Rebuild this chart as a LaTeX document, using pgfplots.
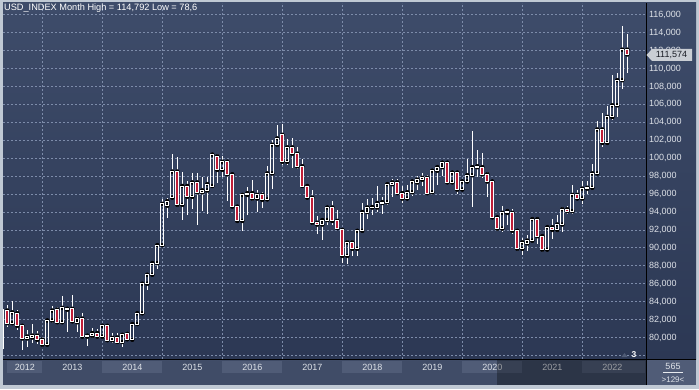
\documentclass[border=0pt]{standalone}
\usepackage{pgfplots}
\pgfplotsset{compat=1.18}
\usepackage{pgfplotstable}
\usepackage{fontspec}
\setmainfont{Liberation Sans}

\definecolor{framec}{RGB}{192,201,212}
\definecolor{bgtop}{RGB}{62,76,106}
\definecolor{bgbot}{RGB}{44,56,84}
\definecolor{band}{RGB}{64,76,103}
\definecolor{boxc}{RGB}{80,92,119}
\definecolor{gridc}{RGB}{125,140,170}
\definecolor{cred}{RGB}{192,30,56}
\definecolor{lab}{RGB}{222,226,232}
\definecolor{tagc}{RGB}{202,206,212}
\definecolor{tagtext}{RGB}{25,28,36}
\definecolor{tric}{RGB}{80,92,118}

\pgfplotstableread{
t o h l c
-8 78.8 83.3 78.7 83.1
-7 83.0 83.6 81.2 81.6
-6 81.6 84.05 81.4 82.8
-5 82.7 83.1 80.8 81.3
-4 81.3 81.5 78.6 79.9
-3 79.9 80.8 78.9 80.1
-2 80.0 81.5 79.4 80.2
-1 80.2 80.7 79.3 79.75
0 79.75 80.1 79.1 79.2
1 79.2 82.1 79.0 81.9
2 81.9 83.5 81.6 83.0
3 83.1 83.4 81.5 81.7
4 81.7 84.6 81.6 83.3
5 83.2 83.4 80.6 83.1
6 83.2 84.75 81.6 81.8
7 81.7 82.4 80.6 82.1
8 82.1 82.7 79.9 80.1
9 80.1 80.4 79.1 80.2
10 80.2 81.1 79.9 80.5
11 80.5 80.9 79.9 80.1
12 80.1 81.4 79.9 81.3
13 81.3 81.4 79.7 79.7
14 79.7 80.5 79.4 79.95
15 80.0 80.5 79.3 79.5
16 79.5 80.5 78.9 80.3
17 80.4 80.6 79.6 79.8
18 79.75 81.6 79.7 81.5
19 81.5 82.8 81.4 82.7
20 82.7 86.1 82.6 86.0
21 86.0 87.2 85.3 87.0
22 87.0 88.4 86.9 88.3
23 88.3 90.4 87.6 90.3
24 90.3 95.5 90.1 94.9
25 94.7 95.6 93.3 95.2
26 95.6 100.5 95.5 98.5
27 98.5 100.1 94.6 94.8
28 94.8 98.5 93.1 96.9
29 96.9 97.4 93.7 95.7
30 95.7 98.3 94.3 97.3
31 97.3 98.3 92.6 96.2
32 96.2 97.9 94.1 96.4
33 96.4 97.9 93.8 97.1
34 96.9 100.5 96.9 100.4
35 100.2 100.5 97.2 98.7
36 98.7 100.2 97.9 99.6
37 99.6 99.8 95.2 98.2
38 98.2 98.3 94.5 94.6
39 94.6 94.8 92.9 93.0
40 93.0 95.9 91.9 95.9
41 95.9 96.8 93.7 96.1
42 96.1 97.6 95.2 95.5
43 95.5 96.5 94.0 95.9
44 95.9 96.2 94.4 95.35
45 95.4 99.1 95.3 98.3
46 98.3 102.0 96.6 101.5
47 101.5 103.7 101.2 102.2
48 102.6 103.8 99.2 99.6
49 99.6 102.1 99.2 101.2
50 101.2 102.2 98.9 100.5
51 100.5 101.3 98.8 99.1
52 99.1 99.9 96.8 96.9
53 96.9 97.0 95.4 95.6
54 95.6 96.5 92.6 92.8
55 92.8 93.6 91.5 92.6
56 92.6 93.2 90.9 93.1
57 93.1 94.6 92.6 94.5
58 94.5 95.2 92.5 93.0
59 93.0 94.2 92.1 92.2
60 92.0 92.2 88.3 89.1
61 89.1 90.9 88.2 90.6
62 90.6 90.9 89.1 89.9
63 89.9 91.9 89.1 91.9
64 91.9 95.0 91.9 94.0
65 94.0 95.5 93.2 94.5
66 94.5 95.6 93.7 94.55
67 94.5 96.9 94.0 95.0
68 95.0 95.7 93.8 95.1
69 95.1 97.2 94.8 97.1
70 97.1 97.7 95.7 97.3
71 97.3 97.7 96.0 96.1
72 96.1 96.9 95.0 95.5
73 95.5 97.0 95.4 96.2
74 96.2 97.6 95.8 97.4
75 97.3 98.0 96.4 97.6
76 97.6 98.3 96.9 97.8
77 97.8 98.1 95.85 96.1
78 96.2 98.7 96.1 98.6
79 98.6 99.0 97.0 99.0
80 99.0 99.6 98.0 99.5
81 99.5 99.7 97.1 97.3
82 97.3 98.6 97.1 98.4
83 98.4 98.5 96.0 96.5
84 96.5 97.5 96.4 97.4
85 97.4 99.9 97.3 98.1
86 98.1 103.0 94.6 99.0
87 99.0 100.9 97.9 99.1
88 99.0 100.6 97.8 98.2
89 98.2 98.5 95.7 97.4
90 97.4 97.6 93.2 93.4
91 93.4 93.5 91.9 92.15
92 92.15 94.7 91.75 93.9
93 93.9 94.3 92.5 94.1
94 93.9 94.3 91.5 91.9
95 91.9 91.95 89.6 89.9
96 89.9 91.1 89.2 90.6
97 90.5 91.4 89.7 90.8
98 90.8 93.4 90.6 93.2
99 93.2 93.4 90.4 91.3
100 91.3 91.4 89.5 89.8
101 89.8 92.4 89.7 92.3
102 92.3 93.2 91.0 92.0
103 92.0 93.7 91.8 92.6
104 92.6 94.5 91.8 94.3
105 94.3 94.7 93.8 94.1
106 94.1 97.0 93.8 95.9
107 95.9 96.4 95.5 95.5
108 95.5 97.5 94.9 96.6
109 96.6 97.4 96.0 96.7
110 96.7 99.4 96.6 98.3
111 98.3 104.1 98.2 103.2
112 103.2 105.0 101.3 101.7
113 101.7 105.8 101.6 104.6
114 104.6 109.3 104.3 105.9
115 105.9 109.5 104.6 108.7
116 108.7 114.792 107.7 112.1
117 112.1 113.9 109.5 111.574
}\candles

\begin{document}
\begin{tikzpicture}[x=1pt,y=1pt]
\path[use as bounding box] (0,0) rectangle (699,389);
\fill[framec] (0,0) rectangle (699,389);
\shade[top color=bgtop, bottom color=bgbot] (3,30) rectangle (696,386);
\fill[band] (3,4) rectangle (696,29.5);
% year boxes
\foreach \a/\b in {7/42.3, 102.3/162.3, 222.3/282.3, 342.3/402.3, 462.3/522.3, 582.3/645}
  \fill[boxc] (\a,15.7) rectangle (\b,28.3);
\fill[boxc] (647,4) rectangle (696,29);

\begin{axis}[
  at={(3pt,30pt)}, anchor=south west, scale only axis,
  width=643pt, height=356pt,
  xmin=-7.86, xmax=120.74, ymin=77.6, ymax=117.31,
  enlargelimits=false,
  axis line style={draw=none},
  major tick length=0pt,
  xtick={0,12,...,108}, xticklabels={},
  extra x ticks={-3.5,6,18,30,42,54,66,78,90,102,114},
  extra x tick labels={2012,2013,2014,2015,2016,2017,2018,2019,2020,2021,2022},
  extra x tick style={grid=none, major tick length=0pt,
     tick label style={yshift=-1.5pt}},
  ytick={80,82,...,116},
  extra y ticks={78}, extra y tick labels={},
  extra y tick style={grid=major},
  yticklabel pos=right,
  grid=major,
  major grid style={gridc, dash pattern=on 2pt off 2pt, line width=0.7pt},
  y tick label style={/pgf/number format/.cd, fixed, fixed zerofill,
     precision=3, use comma, 1000 sep={}, assume math mode=true,
     /tikz/.cd, font=\fontsize{9}{10}\selectfont, text=lab, xshift=-0.5pt},
  x tick label style={font=\fontsize{9}{10}\selectfont, text=lab},
]
% upper wicks
\addplot[only marks, mark=none, forget plot,
  error bars/.cd, y dir=plus, y explicit, error mark=none,
  error bar style={draw=white, line width=1pt, solid}]
  table[x=t, y expr={max(\thisrow{o},\thisrow{c})},
        y error plus expr={\thisrow{h}-max(\thisrow{o},\thisrow{c})}] {\candles};
% lower wicks
\addplot[only marks, mark=none, forget plot,
  error bars/.cd, y dir=minus, y explicit, error mark=none,
  error bar style={draw=white, line width=1pt, solid}]
  table[x=t, y expr={min(\thisrow{o},\thisrow{c})},
        y error minus expr={min(\thisrow{o},\thisrow{c})-\thisrow{l}}] {\candles};
\end{axis}

\begin{axis}[
  at={(3pt,30pt)}, anchor=south west, scale only axis,
  width=643pt, height=356pt,
  xmin=-7.86, xmax=120.74, ymin=77.6, ymax=117.31,
  enlargelimits=false, hide axis,
  ybar stacked, bar width=3.2pt,
]
\addplot[draw=none, fill=none]
  table[x=t, y expr={min(\thisrow{o},\thisrow{c})}] {\candles};
\addplot[draw=white, fill=none, line width=0.9pt]
  table[x=t, y expr={(\thisrow{c}>=\thisrow{o})*(\thisrow{c}-\thisrow{o})}] {\candles};
\addplot[draw=white, fill=cred, line width=0.9pt]
  table[x=t, y expr={(\thisrow{c}<\thisrow{o})*(\thisrow{o}-\thisrow{c})}] {\candles};
\end{axis}

% dim overlay on bottom band
\fill[black, opacity=0.3] (496.7,4) rectangle (645.5,29.5);
% separators
\draw[black, line width=1pt] (646.5,4) -- (646.5,386);
\draw[black, line width=1pt] (3,29.7) -- (696,29.7);
% title
\node[anchor=west, inner sep=0pt, text=white, font=\fontsize{9.2}{10}\selectfont]
  at (4,380.5) {USD\_INDEX Month High = 114,792 Low = 78,6};
% price tag
\fill[tagc] (646.5,334) -- (652,340) -- (692,340) -- (692,328) -- (652,328) -- cycle;
\node[text=tagtext, font=\fontsize{9}{10}\selectfont, inner sep=0pt]
  at (671.5,334) {111,574};
% bottom right info
\node[text=lab, font=\fontsize{9}{10}\selectfont, inner sep=0pt] at (673,23) {565};
\draw[lab!70, line width=0.6pt] (663,16.5) -- (683,16.5);
\node[text=lab, font=\fontsize{8}{9}\selectfont, inner sep=0pt] at (673,9.5) {>129<};
% marker "3"
\fill[tric] (621.5,32) -- (627.5,32) -- (624.5,36) -- cycle;
\node[text=white, font=\bfseries\fontsize{8.5}{9}\selectfont, inner sep=0pt] at (634,34.8) {3};
\end{tikzpicture}
\end{document}
